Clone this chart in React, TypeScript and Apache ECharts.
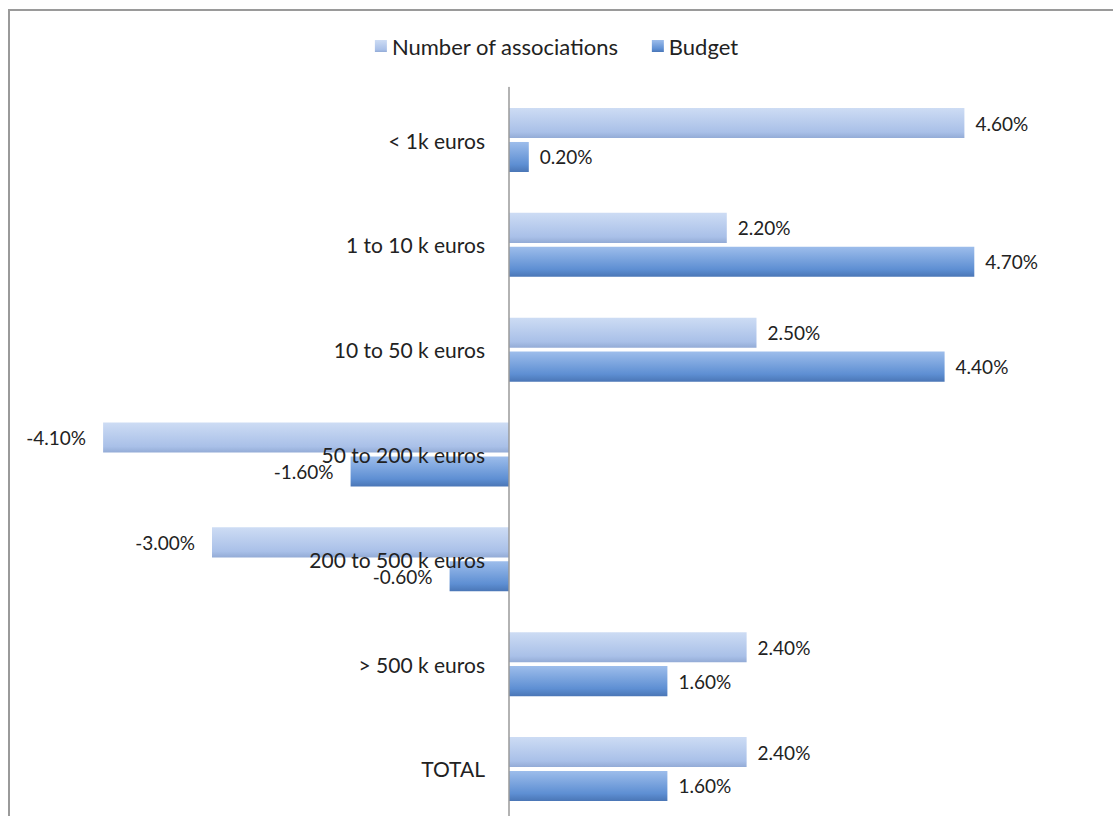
import React, { useEffect, useRef } from "react";
import * as echarts from "echarts";

const categories = [
  "< 1k euros",
  "1 to 10 k euros",
  "10 to 50 k euros",
  "50 to 200 k euros",
  "200 to 500 k euros",
  "> 500 k euros",
  "TOTAL",
];
const associations = [4.6, 2.2, 2.5, -4.1, -3.0, 2.4, 2.4];
const budget = [0.2, 4.7, 4.4, -1.6, -0.6, 1.6, 1.6];
const seriesNames = ["Number of associations", "Budget"];

const FONT = "Lato, 'Open Sans', sans-serif";

const lightGrad = new echarts.graphic.LinearGradient(0, 0, 0, 1, [
  { offset: 0, color: "#cddcf4" },
  { offset: 0.8, color: "#a9c0e8" },
  { offset: 1, color: "#93abd6" },
]);
const darkGrad = new echarts.graphic.LinearGradient(0, 0, 0, 1, [
  { offset: 0, color: "#9dbdeb" },
  { offset: 0.75, color: "#5e8fd3" },
  { offset: 1, color: "#4a76b6" },
]);

function toData(vals: number[]) {
  return vals.map((v) => ({
    value: v,
    label: { position: v < 0 ? "left" : "right", distance: v < 0 ? 17 : 11 },
  }));
}

export default function App() {
  const ref = useRef<HTMLDivElement>(null);
  useEffect(() => {
    if (!ref.current) return;
    const chart = echarts.init(ref.current, null, { renderer: "svg" });
    const labelStyle = {
      show: true,
      formatter: (p: any) => p.value.toFixed(2) + "%",
      fontFamily: FONT,
      fontSize: 19,
      color: "#222",
    };
    chart.setOption({
      animation: false,
      backgroundColor: "#fff",
      graphic: [
        {
          type: "rect",
          shape: { x: 9, y: 10, width: 1110, height: 820 },
          style: { fill: "none", stroke: "#9a9a9a", lineWidth: 2 },
          silent: true,
        },
      ],
      legend: {
        top: 30,
        left: "center",
        itemWidth: 12,
        itemHeight: 12,
        itemGap: 33,
        icon: "rect",
        textStyle: { fontFamily: FONT, fontSize: 22, color: "#222" },
        data: seriesNames,
      },
      grid: {
        left: 14,
        top: 87.6,
        width: 1089,
        height: 733.8,
        containLabel: false,
        outerBoundsMode: "none",
      },
      xAxis: {
        type: "value",
        min: -5,
        max: 6,
        show: false,
      },
      yAxis: {
        type: "category",
        data: categories,
        inverse: true,
        offset: -495,
        z: 10,
        axisLine: { show: true, onZero: false, lineStyle: { color: "#9a9a9a", width: 1.5 } },
        axisTick: { show: false },
        axisLabel: {
          fontFamily: FONT,
          fontSize: 21,
          color: "#222",
          margin: 24,
        },
      },
      series: [
        {
          name: seriesNames[0],
          type: "bar",
          data: toData(associations),
          itemStyle: { color: lightGrad },
          barCategoryGap: "39%",
          barGap: "13%",
          label: labelStyle,
        },
        {
          name: seriesNames[1],
          type: "bar",
          data: toData(budget),
          itemStyle: { color: darkGrad },
          label: labelStyle,
        },
      ],
    });
    return () => chart.dispose();
  }, []);
  return (
    <div
      ref={ref}
      style={{ position: "absolute", left: 0, top: 0, width: 1113, height: 816 }}
    />
  );
}
